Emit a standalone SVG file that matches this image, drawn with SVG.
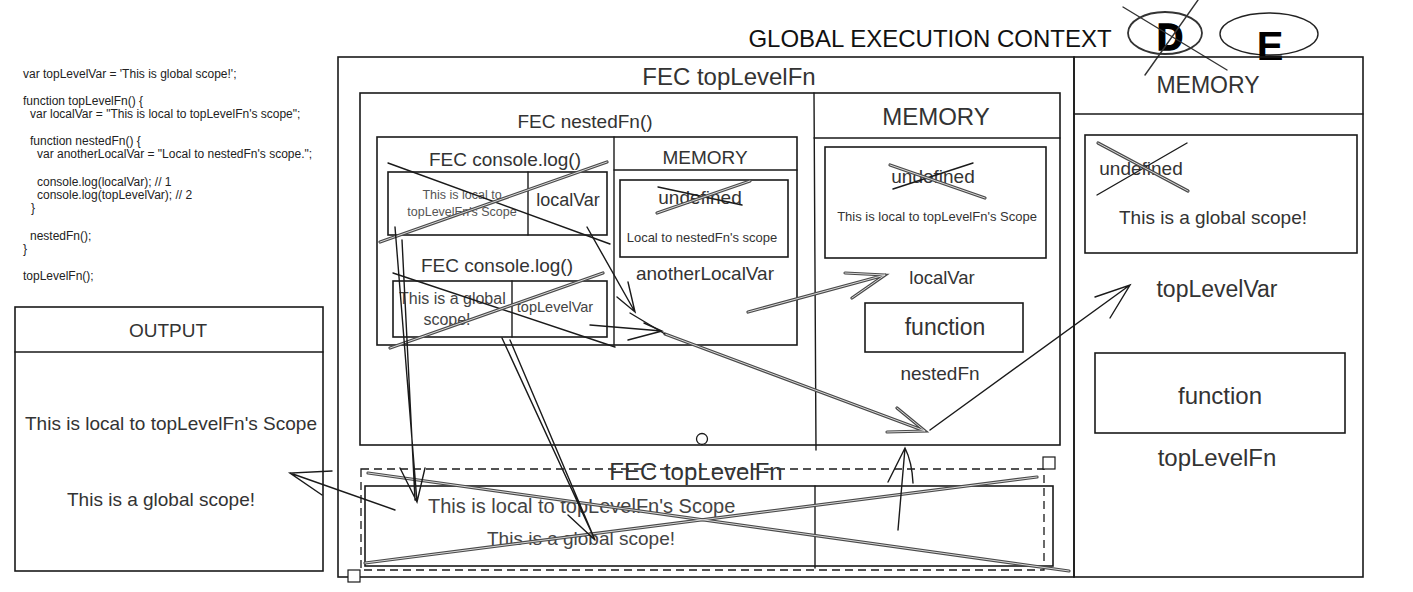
<svg xmlns="http://www.w3.org/2000/svg" xmlns:xlink="http://www.w3.org/1999/xlink" width="1413" height="592" viewBox="0 0 1413 592">
<style>
text{font-family:"Liberation Sans",Arial,sans-serif;fill:#333}
.t{text-anchor:middle}
.box{fill:none;stroke:#1a1a1a;stroke-width:1.6}
.ln{fill:none;stroke:#1a1a1a;stroke-width:1.4;stroke-linecap:round}
.dash{fill:none;stroke:#1a1a1a;stroke-width:1.3;stroke-dasharray:8 5}
.dblo{fill:none;stroke:#4a4a4a;stroke-width:3.2;stroke-linecap:round}
.dbli{fill:none;stroke:#d8d8d8;stroke-width:1;stroke-linecap:round}
.code{font-size:12px;fill:#222}
</style>
<defs>
<path id="g1" d="M380,242 L607,162"/>
<path id="g2" d="M390,348 L603,273"/>
<path id="g3" d="M657,213 L750,181"/>
<path id="g4" d="M890,165 L985,198"/>
<path id="g5" d="M1098,143 L1188,191"/>
<path id="g6" d="M368,473 L1069,571"/>
<path id="g7" d="M365,563 L1037,477"/>
<path id="g8" d="M665,334 L925,431 M897,408 L925,431 L887,432"/>
<path id="g9" d="M748,312 L885,275 M845,273 L885,275 L852,298"/>
</defs>
<rect width="1413" height="592" fill="#fff"/>

<g id="code">
<text class="code" x="23" y="78">var topLevelVar = 'This is global scope!';</text>
<text class="code" x="23" y="105">function topLevelFn() {</text>
<text class="code" x="30" y="118">var localVar = "This is local to topLevelFn's scope";</text>
<text class="code" x="30" y="145">function nestedFn() {</text>
<text class="code" x="37" y="158">var anotherLocalVar = "Local to nestedFn's scope.";</text>
<text class="code" x="37" y="186">console.log(localVar); // 1</text>
<text class="code" x="37" y="199">console.log(topLevelVar); // 2</text>
<text class="code" x="31" y="212">}</text>
<text class="code" x="30" y="240">nestedFn();</text>
<text class="code" x="23" y="253">}</text>
<text class="code" x="23" y="280">topLevelFn();</text>
</g>

<g id="gec-title">
<text class="t" x="930" y="47" font-size="24" style="fill:#111">GLOBAL EXECUTION CONTEXT</text>
<ellipse cx="1165" cy="33" rx="37" ry="21" fill="none" stroke="#333" stroke-width="1.8"/>
<ellipse cx="1269" cy="34" rx="49" ry="21" fill="none" stroke="#222" stroke-width="1.4"/>
<text class="t" x="1170" y="50" font-size="36" font-weight="bold" style="fill:#000;stroke:#000;stroke-width:1.5">D</text>
<text class="t" x="1270" y="60" font-size="40" font-weight="bold" style="fill:#000">E</text>
<path class="ln" d="M1123,7 L1227,70 M1198,0 L1145,75" style="stroke:#333"/>
</g>

<g id="fec-toplevel">
<rect class="box" x="338" y="57" width="736" height="520"/>
<text class="t" x="729" y="85" font-size="24">FEC topLevelFn</text>
</g>

<g id="gec-memory">
<rect class="box" x="1074" y="57" width="289" height="520"/>
<path class="ln" d="M1074,114 L1363,114"/>
<text class="t" x="1208" y="93" font-size="23">MEMORY</text>
<rect class="box" x="1085" y="135" width="272" height="118"/>
<text class="t" x="1141" y="175" font-size="19">undefined</text>
<text class="t" x="1213" y="224" font-size="19">This is a global scope!</text>
<text class="t" x="1217" y="297" font-size="23">topLevelVar</text>
<rect class="box" x="1095" y="353" width="250" height="80"/>
<text class="t" x="1220" y="404" font-size="24">function</text>
<text class="t" x="1217" y="466" font-size="24">topLevelFn</text>
<path class="ln" d="M1097,195 L1187,143"/>
</g>

<g id="fec-toplevel-inner">
<rect class="box" x="360" y="93" width="700" height="352"/>
<path class="ln" d="M814,93 L816,450"/>
<path class="ln" d="M814,138 L1060,138"/>
<text class="t" x="936" y="125" font-size="24">MEMORY</text>
</g>

<g id="toplevel-memory">
<rect class="box" x="825" y="147" width="221" height="111"/>
<text class="t" x="933" y="183" font-size="19">undefined</text>
<path class="ln" d="M893,189 L973,163"/>
<text class="t" x="937" y="221" font-size="13">This is local to topLevelFn's Scope</text>
<text class="t" x="942" y="284" font-size="18.5">localVar</text>
<rect class="box" x="865" y="303" width="158" height="49"/>
<text class="t" x="945" y="335" font-size="23">function</text>
<text class="t" x="940" y="380" font-size="19">nestedFn</text>
</g>

<g id="fec-nested">
<rect class="box" x="377" y="137" width="420" height="208"/>
<path class="ln" d="M614,137 L614,345"/>
<path class="ln" d="M614,170 L797,170"/>
<text class="t" x="585" y="128" font-size="19">FEC nestedFn()</text>
<text class="t" x="705" y="164" font-size="19">MEMORY</text>
</g>

<g id="nested-memory">
<rect class="box" x="620" y="180" width="168" height="77"/>
<text class="t" x="700" y="204" font-size="19">undefined</text>
<path class="ln" d="M658,187 L742,205"/>
<text class="t" x="702" y="242" font-size="13">Local to nestedFn's scope</text>
<text class="t" x="705" y="280" font-size="19">anotherLocalVar</text>
</g>

<g id="console-log-1">
<text class="t" x="505" y="166" font-size="19">FEC console.log()</text>
<rect class="box" x="388" y="172" width="219" height="63"/>
<path class="ln" d="M528,172 L528,235"/>
<text class="t" x="462" y="199" font-size="12.5" style="fill:#555">This is local to</text>
<text class="t" x="462" y="216" font-size="12.5" style="fill:#555">topLevelFn's Scope</text>
<text class="t" x="568" y="206" font-size="18">localVar</text>
<path class="ln" d="M388,163 L610,244"/>
</g>

<g id="console-log-2">
<text class="t" x="497" y="272" font-size="19">FEC console.log()</text>
<rect class="box" x="393" y="281" width="214" height="56"/>
<path class="ln" d="M512,281 L512,337"/>
<text x="399" y="304" font-size="16" style="fill:#444">This is a global</text>
<text class="t" x="447" y="325" font-size="16" style="fill:#444">scope!</text>
<text class="t" x="555" y="312" font-size="14.5" style="fill:#444">topLevelVar</text>
<path class="ln" d="M393,273 L615,347"/>
</g>

<g id="output">
<rect class="box" x="15" y="307" width="308" height="264"/>
<path class="ln" d="M15,352 L323,352"/>
<text class="t" x="168" y="337" font-size="19">OUTPUT</text>
<text class="t" x="171" y="430" font-size="19">This is local to topLevelFn's Scope</text>
<text class="t" x="161" y="506" font-size="19">This is a global scope!</text>
</g>

<g id="fec-toplevel-call">
<rect class="box" x="365" y="486" width="688" height="80"/>
<path class="ln" d="M815,486 L815,568"/>
<text x="428" y="513" font-size="20" style="fill:#444">This is local to topLevelFn's Scope</text>
<text x="487" y="545" font-size="19" style="fill:#444">This is a global scope!</text>
<rect class="dash" x="361" y="469" width="683" height="101"/>
<text class="t" x="696" y="480" font-size="24">FEC topLevelFn</text>
<rect x="1043" y="457" width="12" height="12" fill="#fff" stroke="#1a1a1a" stroke-width="1.2"/>
<rect x="348" y="570" width="12" height="12" fill="#fff" stroke="#1a1a1a" stroke-width="1.2"/>
</g>

<g id="handle-circle">
<circle cx="702" cy="439" r="5.5" fill="#fff" stroke="#1a1a1a" stroke-width="1.3"/>
</g>

<g id="connectors">
<g class="dblo">
<use xlink:href="#g1"/><use xlink:href="#g2"/><use xlink:href="#g3"/><use xlink:href="#g4"/><use xlink:href="#g5"/><use xlink:href="#g6"/><use xlink:href="#g7"/><use xlink:href="#g8"/><use xlink:href="#g9"/>
</g>
<g class="dbli">
<use xlink:href="#g1"/><use xlink:href="#g2"/><use xlink:href="#g3"/><use xlink:href="#g4"/><use xlink:href="#g5"/><use xlink:href="#g6"/><use xlink:href="#g7"/><use xlink:href="#g8"/><use xlink:href="#g9"/>
</g>
<path class="ln" d="M587,227 L635,312 M628,282 L635,312 L617,297"/>
<path class="ln" d="M590,325 L662,331 M644,323 L662,331 L628,340"/>
<path class="ln" d="M630,313 L665,334"/>
<path class="ln" d="M930,430 L1130,285 M1095,297 L1130,285 L1110,318"/>
<path class="ln" d="M395,227 L417,502 M402,240 L415,500 M400,468 L417,502 L425,468"/>
<path class="ln" d="M502,338 L595,540 M510,340 L595,540 M568,515 L595,540"/>
<path class="ln" d="M898,530 L905,448 M888,482 L905,448 Q912,462 913,483"/>
<path class="ln" d="M395,510 L290,473 M332,471 L290,473 L322,495"/>
</g>
</svg>
